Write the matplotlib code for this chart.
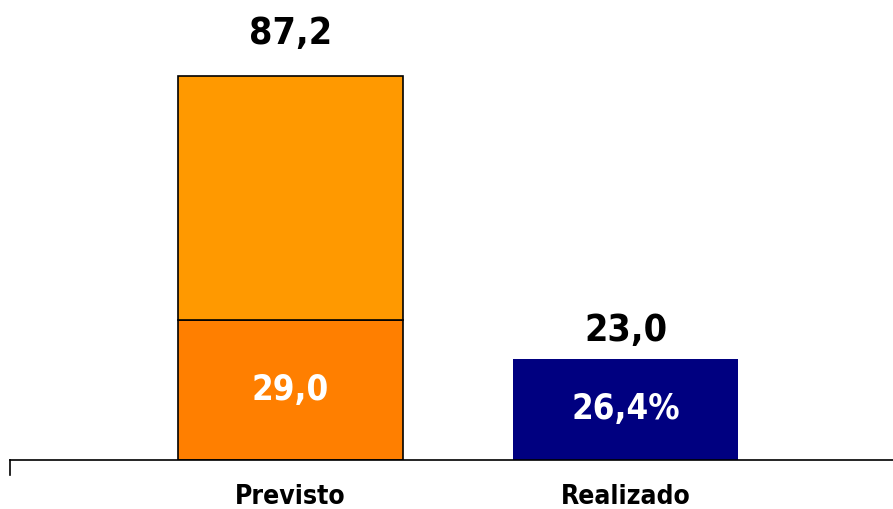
import matplotlib
matplotlib.use('Agg')
import matplotlib.pyplot as plt
from matplotlib.lines import Line2D

# === DATA ===
categories = ['Previsto', 'Realizado']
totals = [87.2, 23.0]
previsto_lower = 31.8          # height of the darker bottom block
total_labels = ['87,2', '23,0']
inner_labels = ['29,0', '26,4%']

FONT = ['Liberation Sans Narrow', 'DejaVu Sans']
TXT = dict(fontweight='bold', family=FONT, fontstretch='condensed')

fig = plt.figure(figsize=(8.93, 5.09), dpi=100)
ax = fig.add_axes([10 / 893, 1 - 460 / 509, 1 - 10 / 893, 460 / 509])

x = [0, 1]
width = 0.672

# Previsto: stacked, light on top of dark
ax.bar(x[0], previsto_lower, width, color='#FF7F00', edgecolor='black', linewidth=1.2)
ax.bar(x[0], totals[0] - previsto_lower, width, bottom=previsto_lower,
       color='#FF9900', edgecolor='black', linewidth=1.2)
# Realizado
ax.bar(x[1], totals[1], width, color='#000080', edgecolor='none')

# totals above bars
offsets = [17, 7]
for xi, tot, lab, off in zip(x, totals, total_labels, offsets):
    ax.annotate(lab, (xi, tot), xytext=(0, off), textcoords='offset points',
                ha='center', va='bottom', fontsize=27, **TXT)

# inner labels
inner_centers = [previsto_lower / 2, totals[1] / 2]
for xi, yc, lab in zip(x, inner_centers, inner_labels):
    ax.text(xi, yc, lab, ha='center', va='center', color='white',
            fontsize=25, **TXT)

ax.set_xlim(-0.837, 1.798)
ax.set_ylim(0, 104.4)

for s in ['top', 'right', 'left']:
    ax.spines[s].set_visible(False)
ax.spines['bottom'].set_linewidth(1.2)
ax.set_yticks([])
ax.set_xticks(x)
ax.set_xticklabels(categories, fontsize=19, **TXT)
ax.tick_params(axis='x', length=0, pad=17)

# small tick at the left end of the category axis
ax.add_line(Line2D([0, 0], [0, -15 / 460], transform=ax.transAxes,
                   color='black', linewidth=1.2, clip_on=False))

fig.savefig('out.png', dpi=100)
